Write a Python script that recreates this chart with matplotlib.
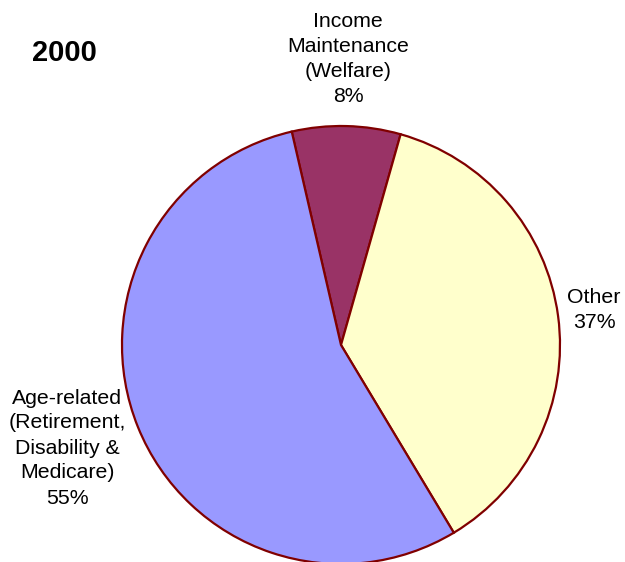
import matplotlib.pyplot as plt

plt.rcParams['font.family'] = ['Liberation Sans', 'DejaVu Sans']

# data
categories = ["Income\nMaintenance\n(Welfare)", "Other",
              "Age-related\n(Retirement,\nDisability &\nMedicare)"]
shares = [8, 37, 55]
colors = ["#993366", "#FFFFCC", "#9999FF"]
year = "2000"

W, H = 625, 562
fig = plt.figure(figsize=(W / 100, H / 100), dpi=100)

# pie centre (341, 345) px, radius 219 px
cx, cy, r = 341, 345, 219
ax = fig.add_axes([(cx - r) / W, (H - cy - r) / H, 2 * r / W, 2 * r / H])
wedges, _ = ax.pie(shares, colors=colors, startangle=103, counterclock=False,
                   wedgeprops=dict(edgecolor="#800000", linewidth=1.6))
for w in wedges:
    w.set_clip_on(False)
ax.set_xlim(-1, 1)
ax.set_ylim(-1, 1)
ax.set_aspect("equal")
ax.axis("off")

# labels (pixel positions of the text blocks)
label_pos = [(348, 59), (594, 310), (67, 448)]
for cat, val, (x, y) in zip(categories, shares, label_pos):
    fig.text(x / W, 1 - y / H, f"{cat}\n{val}%", ha="center", va="center",
             fontsize=15.3, linespacing=1.4, color="black")

fig.text(64 / W, 1 - 53 / H, year, ha="center", va="center",
         fontsize=21, fontweight="bold")

fig.savefig("out.png", dpi=100)
